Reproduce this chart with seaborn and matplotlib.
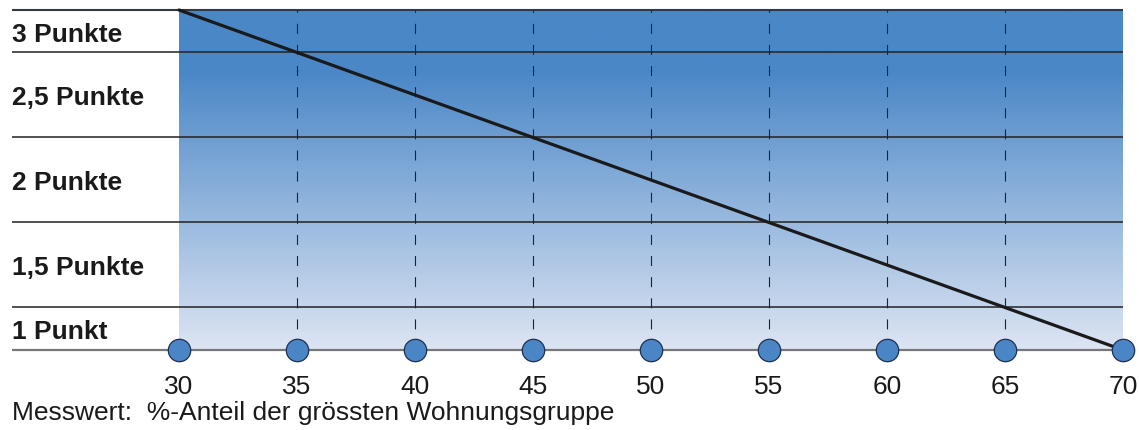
import numpy as np
import pandas as pd
import matplotlib
matplotlib.use("Agg")
import matplotlib.pyplot as plt
import seaborn as sns
from matplotlib.colors import LinearSegmentedColormap

# ---- data ----
x_ticks = [30, 35, 40, 45, 50, 55, 60, 65, 70]
line_x = [30, 70]
line_y = [3.0, 1.0]
band_bounds = [3.0, 2.75, 2.25, 1.75, 1.25]
label_pos = [2.855, 2.48, 1.98, 1.48, 1.107]
label_text = ["3 Punkte", "2,5 Punkte", "2 Punkte", "1,5 Punkte", "1 Punkt"]
dashed_x = [35, 40, 45, 50, 55, 60, 65]
y_base = 1.0
x_title = "Messwert:  %-Anteil der grössten Wohnungsgruppe"

sns.set_theme(style="white")
plt.rcParams['font.family'] = ['Liberation Sans', 'DejaVu Sans']

fig = plt.figure(figsize=(11.39, 4.30), dpi=100)
ax = fig.add_axes([0, 0, 1, 1])
ax.set_xlim(22.415, 70.678)
ax.set_ylim(0.5294, 3.0588)
ax.axis("off")

# gradient background
top = np.array([74, 135, 199]) / 255
bot = np.array([221, 229, 243]) / 255
cmap = LinearSegmentedColormap.from_list("g", [(0, bot), (0.82, top), (1, top)])
grad = np.linspace(0, 1, 256).reshape(-1, 1)
ax.imshow(grad, extent=[x_ticks[0], x_ticks[-1], y_base, band_bounds[0]],
          origin="lower", aspect="auto", cmap=cmap, zorder=0)

# horizontal band lines
x_left = 22.92
ax.hlines(band_bounds[1:], x_left, x_ticks[-1], color="#222222", lw=1.1, zorder=2)
ax.hlines([band_bounds[0]], x_left, x_ticks[-1], color="#333a44", lw=1.5, zorder=2)
ax.hlines([y_base], x_left, x_ticks[-1], color="#777777", lw=1.6, zorder=2)

# dashed verticals
ax.vlines(dashed_x, y_base, band_bounds[0], color="#222222", lw=0.8,
          linestyles=(0, (9, 10)), zorder=2)

# main line
df_line = pd.DataFrame({"x": line_x, "y": line_y})
sns.lineplot(data=df_line, x="x", y="y", ax=ax, color="#1a1a1a", lw=2.3, zorder=3)

# circles
df_pts = pd.DataFrame({"x": x_ticks, "y": [y_base] * len(x_ticks)})
sns.scatterplot(data=df_pts, x="x", y="y", ax=ax, s=260, color="#4a86c5",
                edgecolor="#1f2f4f", linewidth=0.9, zorder=4)

# labels
for yp, t in zip(label_pos, label_text):
    ax.text(x_left, yp, t, fontsize=19, fontweight="bold", color="#1a1a1a",
            ha="left", va="center")
for xv in x_ticks:
    ax.text(xv, 0.78, str(xv), fontsize=19, color="#1a1a1a", ha="center", va="center")
ax.text(x_left, 0.632, x_title, fontsize=19, color="#1a1a1a", ha="left", va="center")

ax.set_xlabel("")
ax.set_ylabel("")
fig.savefig("out.png", dpi=100)
